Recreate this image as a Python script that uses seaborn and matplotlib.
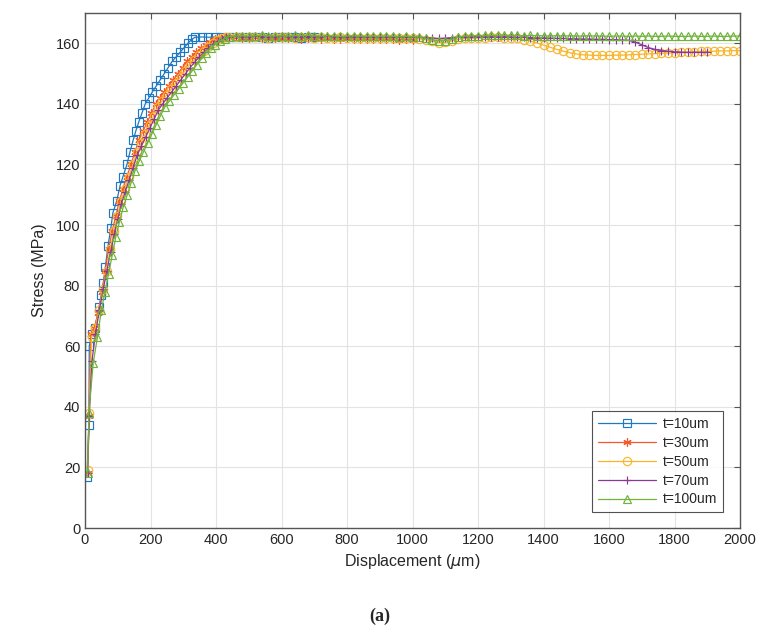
import numpy as np
import pandas as pd
import seaborn as sns
import matplotlib
matplotlib.use("Agg")
import matplotlib.pyplot as plt

# rising part of each curve (displacement in um, stress in MPa)
d10 = [6, 12, 13, 21, 30, 43, 50, 56, 62, 70, 79, 85, 97, 107, 116, 128, 137, 147, 155, 164,
       174, 184, 195, 206, 218, 230, 242, 254, 266, 278, 290, 302, 314, 326, 336, 356, 376, 396, 416]
s10 = [17, 34, 60, 64, 66, 73, 77, 81, 86, 93, 99, 104, 108, 113, 116, 120, 124, 128, 131, 134,
       137, 140, 142, 144, 146, 148, 150, 152, 154, 155.5, 157, 158.5, 160, 161.3, 162, 162.1, 162, 162.1, 162]

d30 = [8, 12, 18, 28, 40, 52, 62, 72, 83, 94, 105, 116, 128, 140, 152, 164, 177, 190, 203, 216,
       229, 242, 256, 270, 284, 298, 312, 326, 340, 354, 368, 382, 396, 410, 424]
s30 = [18, 37, 64, 66, 71, 78, 85, 92, 98, 103, 108, 112, 116, 120, 124, 128, 131, 134, 137, 140,
       142, 144, 146, 148, 150, 152, 154, 155.5, 157, 158.3, 159.5, 160.5, 161.3, 161.8, 162]

d50 = [8, 13, 20, 31, 43, 55, 66, 77, 88, 99, 110, 122, 134, 146, 158, 171, 184, 197, 210, 223,
       236, 250, 264, 278, 292, 306, 320, 334, 348, 362, 376, 390, 404, 418, 430]
s50 = [19, 38, 63, 66, 72, 79, 85, 92, 98, 103, 108, 112, 116, 120, 124, 127, 130, 133, 136, 139,
       141, 143, 145, 147, 149, 151, 153, 154.5, 156, 157.5, 158.8, 160, 161, 161.6, 162]

d70 = [8, 13, 21, 32, 44, 56, 67, 78, 89, 100, 111, 123, 135, 147, 159, 172, 185, 198, 211, 224,
       237, 251, 265, 279, 293, 307, 321, 335, 349, 363, 377, 391, 405, 419, 432]
s70 = [18, 37, 55, 64, 72, 79, 85, 91, 97, 102, 107, 111, 115, 119, 123, 126, 129, 132, 135, 138,
       140, 142, 144, 146, 148, 150, 152, 153.8, 155.5, 157, 158.5, 159.8, 160.8, 161.5, 162]

d100 = [8, 12, 25, 38, 50, 61, 72, 83, 94, 105, 117, 129, 141, 153, 165, 178, 191, 204, 217, 230,
        244, 258, 272, 286, 300, 314, 328, 342, 356, 370, 384, 398, 412, 426]
s100 = [18, 38, 54.5, 63, 72, 78, 84, 90, 96, 101, 106, 110, 114, 118, 121, 124, 127, 130, 133, 136,
        139, 141, 143, 145, 147, 149, 151, 153, 155, 156.8, 158.3, 159.6, 160.7, 161.5]

# plateau, sampled every 20 um from 440 um
plateau_d = np.arange(440, 2001, 20)

p10 = [162.1, 162, 162.2, 162, 162.1, 162, 161.9, 162, 162.1, 162, 162, 161.9, 162, 162]

p30 = [162.1, 162, 161.9, 161.8, 162, 161.7, 161.8, 161.6, 161.7, 161.8, 161.6, 161.5, 161.7, 161.6,
       161.5, 161.6, 161.4, 161.5, 161.6, 161.4, 161.5, 161.3, 161.4, 161.5, 161.3, 161.4, 161.2,
       161.3, 161.2]

p50 = [162.1, 162, 162.2, 162.1, 162, 162.1, 161.9, 162, 162.1, 162, 161.9, 162, 162.1, 161.9, 162,
       161.8, 161.9, 162, 161.8, 161.9, 161.8, 161.7, 161.8, 161.9, 161.7, 161.8, 161.7, 161.6,
       161.7, 161.5,
       161.2, 160.6, 160.2, 160.3, 160.8, 161.3, 161.6, 161.7, 161.8, 161.9,
       162, 162, 161.9, 161.8, 161.6, 161.2, 160.7, 160.1, 159.4, 158.7,
       158, 157.4, 156.9, 156.5, 156.2, 156.1, 156, 156, 156, 156.1,
       156.1, 156.2, 156.3, 156.4, 156.5, 156.6, 156.7, 156.8, 156.9, 157,
       157.1, 157.2, 157.3, 157.3, 157.4, 157.5, 157.5, 157.6, 157.6]

p70 = [162.2, 162.3, 162.1, 162.2, 162.3, 162.2, 162.1, 162.2, 162.3, 162.2, 162.1, 162.2, 162.2,
       162.1, 162.2, 162.3, 162.2, 162.1, 162.2, 162.2, 162.1, 162.2, 162.1, 162, 162.1, 162.2,
       162.1, 162, 162.1, 162,
       161.9, 161.7, 161.6, 161.7, 161.9, 162, 162.1, 162.2, 162.2, 162.1,
       162.2, 162.1, 162.2, 162.1, 162, 162, 161.9, 161.8, 161.8, 161.7,
       161.6, 161.6, 161.5, 161.5, 161.4, 161.4, 161.3, 161.3, 161.2, 161.2,
       161.1, 161, 160.4, 159.5, 158.6, 158, 157.6, 157.4, 157.2, 157.1,
       157, 157, 157, 157]

p100 = [162.2, 162.4, 162.5, 162.4, 162.5, 162.6, 162.5, 162.4, 162.5, 162.4, 162.6, 162.5, 162.7,
        162.5, 162.4, 162.5, 162.4, 162.3, 162.4, 162.5, 162.4, 162.3, 162.4, 162.3, 162.4, 162.3,
        162.2, 162.3, 162.2, 162.1,
        161.6, 161.1, 160.8, 160.9, 161.3, 162, 162.4, 162.5, 162.5, 162.6,
        162.6, 162.6, 162.7, 162.6, 162.6, 162.5, 162.6, 162.5, 162.5, 162.4,
        162.5, 162.4, 162.5, 162.4, 162.4, 162.5, 162.4, 162.4, 162.3, 162.4,
        162.4, 162.3, 162.4, 162.3, 162.4, 162.3, 162.3, 162.4, 162.3, 162.3,
        162.3, 162.4, 162.3, 162.3, 162.4, 162.3, 162.3, 162.4, 162.4]

labels = ["t=10um", "t=30um", "t=50um", "t=70um", "t=100um"]
colors = ["#1f78c1", "#f5582a", "#f9b52c", "#8a3a96", "#6fb33a"]
markers = ["s", (6, 2, 0), "o", "+", "^"]
rises = [(d10, s10), (d30, s30), (d50, s50), (d70, s70), (d100, s100)]
plateaus = [p10, p30, p50, p70, p100]

frames = []
for lab, (d, s), p in zip(labels, rises, plateaus):
    frames.append(pd.DataFrame({
        "disp": list(d) + list(plateau_d[:len(p)]),
        "stress": list(s) + list(p),
        "series": lab,
    }))
data = pd.concat(frames, ignore_index=True)

sns.set_style("white")
plt.rcParams["font.family"] = ["Liberation Sans", "DejaVu Sans"]

fig = plt.figure(figsize=(7.63, 6.35), dpi=100)
ax = fig.add_axes([0.1114, 0.1685, 0.8585, 0.811])

for lab, col, mk in zip(labels, colors, markers):
    sub = data[data["series"] == lab]
    sns.lineplot(data=sub, x="disp", y="stress", ax=ax, estimator=None, sort=False,
                 color=col, linewidth=0.9, marker=mk, markersize=6,
                 markerfacecolor="none", markeredgecolor=col, markeredgewidth=0.85,
                 label=lab)

ax.set_xlim(0, 2000)
ax.set_ylim(0, 170)
ax.set_xticks(range(0, 2001, 200))
ax.set_yticks(range(0, 161, 20))
ax.grid(True, color="#e3e3e3", linewidth=0.8)
ax.set_axisbelow(True)
for sp in ax.spines.values():
    sp.set_color("#555555")
    sp.set_linewidth(1.0)
ax.tick_params(direction="in", top=True, right=True, length=4, width=0.8,
               colors="#555555", labelcolor="#262626", labelsize=10.5)

ax.set_xlabel("Displacement ($\\mu$m)", fontsize=11.5, color="#262626", labelpad=4)
ax.set_ylabel("Stress (MPa)", fontsize=11.5, color="#262626", labelpad=6)

leg = ax.legend(loc="lower right", bbox_to_anchor=(0.974, 0.031), borderaxespad=0,
                fontsize=10, handlelength=4.2, frameon=True, fancybox=False,
                labelspacing=0.35, borderpad=0.4, handletextpad=0.5)
leg.get_frame().set_edgecolor("#262626")
leg.get_frame().set_linewidth(0.8)

fig.text(0.498, 0.03, "(a)", ha="center", va="center", fontsize=13, fontweight="bold",
         family=["Liberation Serif", "DejaVu Serif"])

fig.savefig("out.png", dpi=100)
